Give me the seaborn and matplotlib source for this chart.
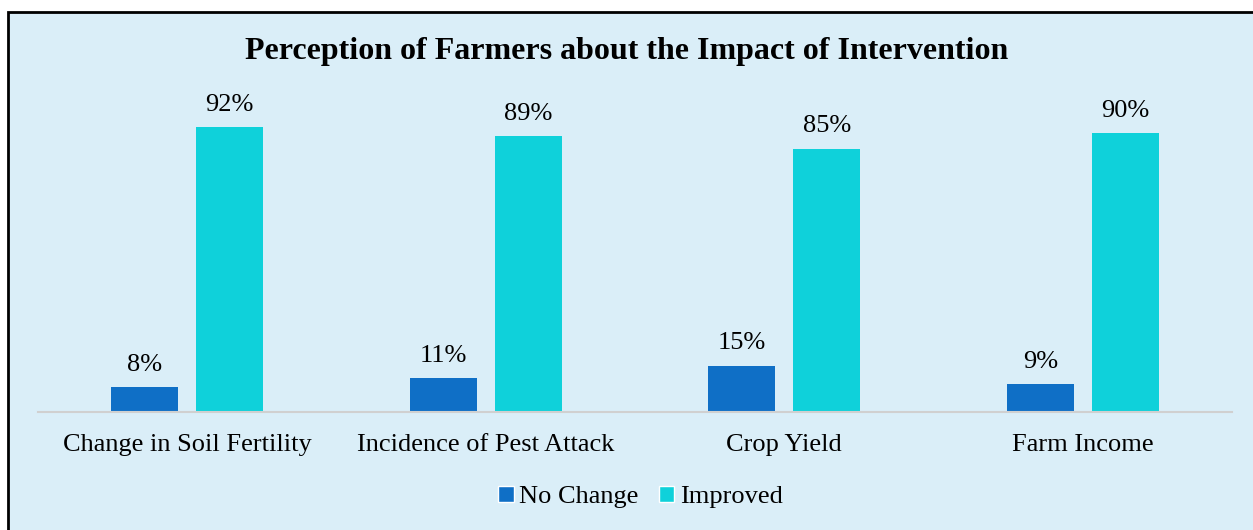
import matplotlib
matplotlib.use("Agg")
import matplotlib.pyplot as plt
import seaborn as sns
import pandas as pd
from matplotlib.patches import Rectangle

categories = ["Change in Soil Fertility", "Incidence of Pest Attack", "Crop Yield", "Farm Income"]
no_change = [8, 11, 15, 9]
improved = [92, 89, 85, 90]
series = ["No Change", "Improved"]
colors = ["#0F6FC6", "#0FD1DA"]
bg = "#DAEEF8"

df = pd.DataFrame({
    "category": categories * 2,
    "value": no_change + improved,
    "series": [series[0]] * 4 + [series[1]] * 4,
})

sns.set_style("white")
plt.rcParams["font.family"] = ["Liberation Serif", "DejaVu Serif"]
plt.rcParams["text.color"] = "black"
plt.rcParams["xtick.color"] = "black"

fig = plt.figure(figsize=(12.53, 5.30), dpi=100)
fig.patch.set_facecolor("white")
fig.patches.append(Rectangle((8 / 1253, -0.05), 1.1, (530 - 12) / 530 + 0.05,
                             transform=fig.transFigure, facecolor=bg,
                             edgecolor="black", linewidth=2, zorder=-5))

ax = fig.add_axes([38 / 1253, (530 - 412) / 530, (1232 - 38) / 1253, 310 / 530])
ax.set_zorder(2)
ax.set_facecolor("none")
sns.barplot(data=df, x="category", y="value", hue="series", palette=colors,
            width=0.57, gap=0.21, ax=ax, legend=False, saturation=1, linewidth=0)

for cont in ax.containers:
    ax.bar_label(cont, labels=[f"{v:.0f}%" for v in cont.datavalues],
                 padding=8, fontsize=19, color="black")

ax.set_xlim(-0.5, 3.5)
ax.set_ylim(0, 100)
ax.set_yticks([])
ax.set_xlabel("")
ax.set_ylabel("")
ax.tick_params(axis="x", length=0, labelsize=19, pad=16, labelcolor="black")
for s in ["top", "right", "left"]:
    ax.spines[s].set_visible(False)
ax.spines["bottom"].set_color("#D0D0D0")
ax.spines["bottom"].set_linewidth(1.5)

fig.text(0.5, (530 - 52) / 530, "Perception of Farmers about the Impact of Intervention",
         ha="center", va="center", fontsize=23, fontweight="bold", color="black")

handles = [Rectangle((0, 0), 1, 1, facecolor=c) for c in colors]
fig.legend(handles, series, loc="center", bbox_to_anchor=(640.5 / 1253, (530 - 497) / 530),
           ncol=2, frameon=False, fontsize=19, handlelength=0.6, handleheight=0.6,
           handletextpad=0.2, columnspacing=0.75, labelcolor="black")

fig.savefig("out.png", dpi=100, facecolor=fig.get_facecolor())
